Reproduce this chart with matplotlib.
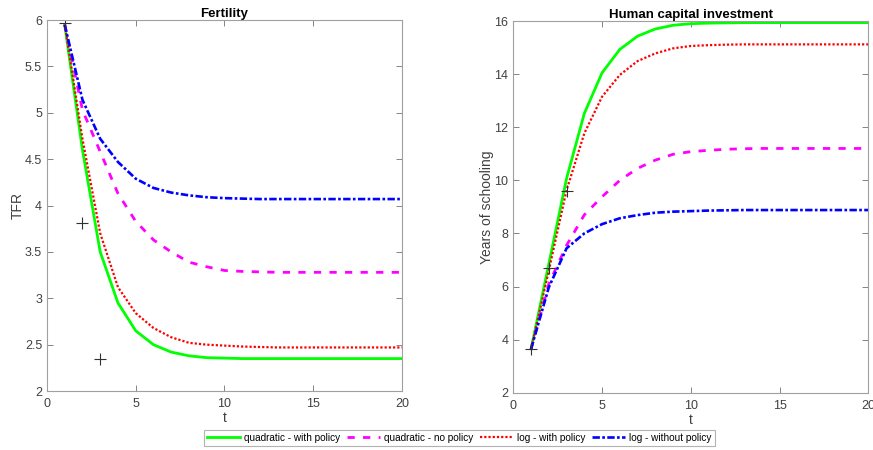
import matplotlib
matplotlib.use("Agg")
import matplotlib.pyplot as plt

t = list(range(1, 21))

# Fertility (TFR)
tfr_quad_policy = [5.95, 4.60, 3.50, 2.95, 2.65, 2.50, 2.42, 2.38, 2.36, 2.355, 2.35, 2.35, 2.35, 2.35, 2.35, 2.35, 2.35, 2.35, 2.35, 2.35]
tfr_quad_nopolicy = [5.95, 5.03, 4.58, 4.13, 3.83, 3.63, 3.50, 3.39, 3.34, 3.30, 3.29, 3.285, 3.28, 3.28, 3.28, 3.28, 3.28, 3.28, 3.28, 3.28]
tfr_log_policy = [5.95, 4.72, 3.70, 3.12, 2.84, 2.68, 2.58, 2.52, 2.50, 2.49, 2.48, 2.475, 2.47, 2.47, 2.47, 2.47, 2.47, 2.47, 2.47, 2.47]
tfr_log_nopolicy = [5.95, 5.14, 4.72, 4.47, 4.29, 4.19, 4.14, 4.11, 4.09, 4.08, 4.075, 4.07, 4.07, 4.07, 4.07, 4.07, 4.07, 4.07, 4.07, 4.07]
tfr_data_t = [1, 2, 3]
tfr_data = [5.97, 3.81, 2.35]

# Human capital (years of schooling)
hc_quad_policy = [3.65, 6.85, 10.07, 12.52, 14.05, 14.93, 15.43, 15.70, 15.84, 15.90, 15.92, 15.93, 15.94, 15.94, 15.94, 15.94, 15.94, 15.94, 15.94, 15.94]
hc_quad_nopolicy = [3.65, 6.10, 7.55, 8.70, 9.38, 10.00, 10.45, 10.76, 10.98, 11.08, 11.13, 11.17, 11.19, 11.2, 11.2, 11.2, 11.2, 11.2, 11.2, 11.2]
hc_log_policy = [3.65, 6.60, 9.63, 11.77, 13.15, 13.97, 14.49, 14.78, 14.97, 15.06, 15.09, 15.11, 15.12, 15.12, 15.12, 15.12, 15.12, 15.12, 15.12, 15.12]
hc_log_nopolicy = [3.65, 5.97, 7.44, 8.00, 8.35, 8.57, 8.69, 8.78, 8.82, 8.84, 8.86, 8.87, 8.88, 8.88, 8.88, 8.88, 8.88, 8.88, 8.88, 8.88]
hc_data_t = [1, 2, 3]
hc_data = [3.65, 6.71, 9.61]

labels = ["quadratic - with policy", "quadratic - no policy", "log - with policy", "log - without policy"]

plt.rcParams['font.family'] = ['Liberation Sans', 'DejaVu Sans']

fig = plt.figure(figsize=(8.73, 4.5), dpi=100)
ax1 = fig.add_axes([0.0538, 0.131, 0.4066, 0.8244])
ax2 = fig.add_axes([0.588, 0.1273, 0.4066, 0.826])

styles = [
    dict(color='#00ff00', ls='-', lw=2.0),
    dict(color='#ff00ff', ls=(0, (2.6, 3.0)), lw=2.0),
    dict(color='#ff0000', ls=(0, (1.0, 0.9)), lw=1.6),
    dict(color='#0000ff', ls=(0, (2.8, 0.9, 1.0, 0.9)), lw=1.9),
]

def style_ax(ax):
    for s in ax.spines.values():
        s.set_color('#a0a0a0')
        s.set_linewidth(0.8)
    ax.tick_params(direction='in', top=True, right=True, length=4, width=0.6,
                   color='#707070', labelcolor='#404040', labelsize=9)
    ax.tick_params(axis='x', pad=5)

series1 = [tfr_quad_policy, tfr_quad_nopolicy, tfr_log_policy, tfr_log_nopolicy]
handles = []
for y, st in zip(series1, styles):
    h, = ax1.plot(t, y, **st)
    handles.append(h)
ax1.plot(tfr_data_t, tfr_data, ls='none', marker='+', color='#303030', ms=9, mew=0.8)
ax1.set_xlim(0, 20)
ax1.set_ylim(2, 6)
ax1.set_xticks([0, 5, 10, 15, 20])
ax1.set_yticks([2, 2.5, 3, 3.5, 4, 4.5, 5, 5.5, 6])
ax1.set_yticklabels(['2', '2.5', '3', '3.5', '4', '4.5', '5', '5.5', '6'])
ax1.set_title('Fertility', fontsize=9.5, fontweight='bold', pad=2)
ax1.set_xlabel('t', fontsize=10, color='#404040', labelpad=1)
ax1.set_ylabel('TFR', fontsize=10, color='#404040', labelpad=0)
style_ax(ax1)

series2 = [hc_quad_policy, hc_quad_nopolicy, hc_log_policy, hc_log_nopolicy]
for y, st in zip(series2, styles):
    ax2.plot(t, y, **st)
ax2.plot(hc_data_t, hc_data, ls='none', marker='+', color='#303030', ms=9, mew=0.8)
ax2.set_xlim(0, 20)
ax2.set_ylim(2, 16)
ax2.set_xticks([0, 5, 10, 15, 20])
ax2.set_yticks([2, 4, 6, 8, 10, 12, 14, 16])
ax2.set_title('Human capital investment', fontsize=9.5, fontweight='bold', pad=2)
ax2.set_xlabel('t', fontsize=10, color='#404040', labelpad=1)
ax2.set_ylabel('Years of schooling', fontsize=10, color='#404040', labelpad=0)
style_ax(ax2)

leg = fig.legend(handles, labels, loc='center', bbox_to_anchor=(0.526, 0.027), ncol=4,
                 fontsize=7.2, frameon=True, fancybox=False, handlelength=3.3,
                 handletextpad=0.4, columnspacing=0.7, borderpad=0.3, borderaxespad=0)
leg.get_frame().set_edgecolor('#a0a0a0')
leg.get_frame().set_linewidth(0.8)

fig.savefig('out.png', dpi=100)
